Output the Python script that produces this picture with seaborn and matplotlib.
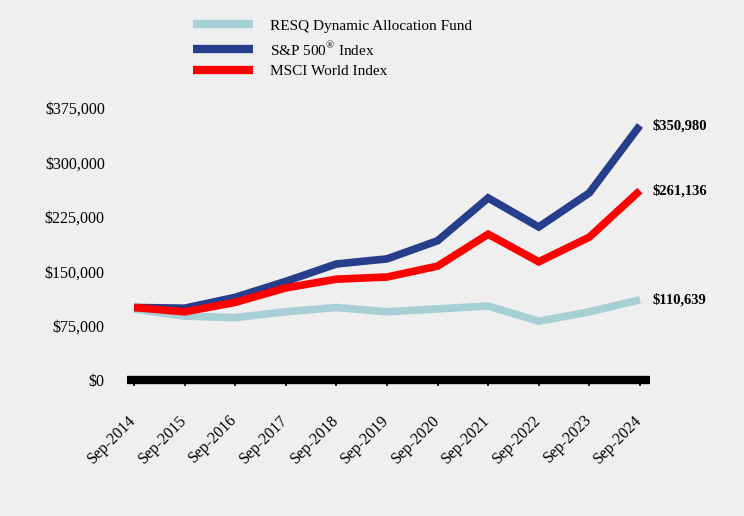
import numpy as np
import pandas as pd
import matplotlib
matplotlib.use("Agg")
import matplotlib.pyplot as plt
import matplotlib.transforms as mtransforms
import seaborn as sns

years = ["Sep-2014", "Sep-2015", "Sep-2016", "Sep-2017", "Sep-2018", "Sep-2019",
         "Sep-2020", "Sep-2021", "Sep-2022", "Sep-2023", "Sep-2024"]
resq = [98000, 88000, 86000, 94000, 100000, 94000, 98000, 102000, 81000, 94000, 110639]
sp500 = [100000, 99000, 114000, 136000, 160000, 167000, 192000, 251000, 211000, 258000, 350980]
msci = [100000, 94000, 107000, 127000, 139000, 142000, 157000, 201000, 163000, 197000, 261136]

names = ["RESQ Dynamic Allocation Fund", "S&P 500$^{\\mathrm{\u00ae}}$ Index", "MSCI World Index"]
colors = ["#a6d0d6", "#263e8b", "#ff0000"]
y_ticks = [0, 75000, 150000, 225000, 300000, 375000]

df = pd.DataFrame({
    "x": list(range(len(years))) * 3,
    "value": resq + sp500 + msci,
    "series": [names[0]] * len(years) + [names[1]] * len(years) + [names[2]] * len(years),
})

sns.set_theme(style="white")
plt.rcParams["font.family"] = ["Liberation Serif", "DejaVu Serif"]
plt.rcParams["mathtext.fontset"] = "custom"
plt.rcParams["mathtext.rm"] = "Liberation Serif"
plt.rcParams["text.color"] = "black"
plt.rcParams["xtick.color"] = "black"
plt.rcParams["ytick.color"] = "black"
bg = "#efefef"

fig = plt.figure(figsize=(7.44, 5.16), dpi=100, facecolor=bg)
ax = fig.add_axes([0.1707, 0.2636, 0.703, 0.527], facecolor=bg)

sns.lineplot(data=df, x="x", y="value", hue="series", hue_order=names,
             palette=colors, linewidth=5.5, ax=ax, legend=False)
for line in ax.lines:
    line.set_solid_joinstyle("miter")
    line.set_solid_capstyle("butt")

ax.set_xlim(-0.14, 10.2)
ax.set_ylim(0, 375000)
ax.set_yticks(y_ticks)
ax.set_yticklabels(["${:,}".format(v) for v in y_ticks], fontsize=11.5)
ax.set_xticks(range(len(years)))
ax.set_xticklabels(years, rotation=45, ha="right", rotation_mode="anchor", fontsize=11.5)
ax.tick_params(axis="y", length=0, pad=16)
ax.tick_params(axis="x", length=4, width=1.2, color="black", pad=19, direction="out", bottom=True)
shift = mtransforms.ScaledTranslation(-6 / 100, 0, fig.dpi_scale_trans)
for lbl in ax.get_xticklabels():
    lbl.set_transform(lbl.get_transform() + shift)
ax.set_xlabel("")
ax.set_ylabel("")
for s in ["top", "right", "left"]:
    ax.spines[s].set_visible(False)
ax.spines["bottom"].set_linewidth(6)
ax.spines["bottom"].set_color("black")
ax.spines["bottom"].set_capstyle("butt")

# end labels
for vals in [sp500, msci, resq]:
    ax.annotate("${:,}".format(vals[-1]), (len(years) - 1, vals[-1]),
                xytext=(9, 0), textcoords="offset points", va="center", ha="left",
                fontsize=10.5, fontweight="bold", annotation_clip=False)

handles = [plt.Line2D([], [], color=c, linewidth=6, solid_capstyle="butt") for c in colors]
fig.legend(handles, names, loc="upper left", bbox_to_anchor=(0.245, 0.984),
           frameon=False, fontsize=11, handlelength=3.9, handletextpad=1.15,
           labelspacing=0.45, borderaxespad=0.3)

fig.savefig("out.png", dpi=100, facecolor=bg)
